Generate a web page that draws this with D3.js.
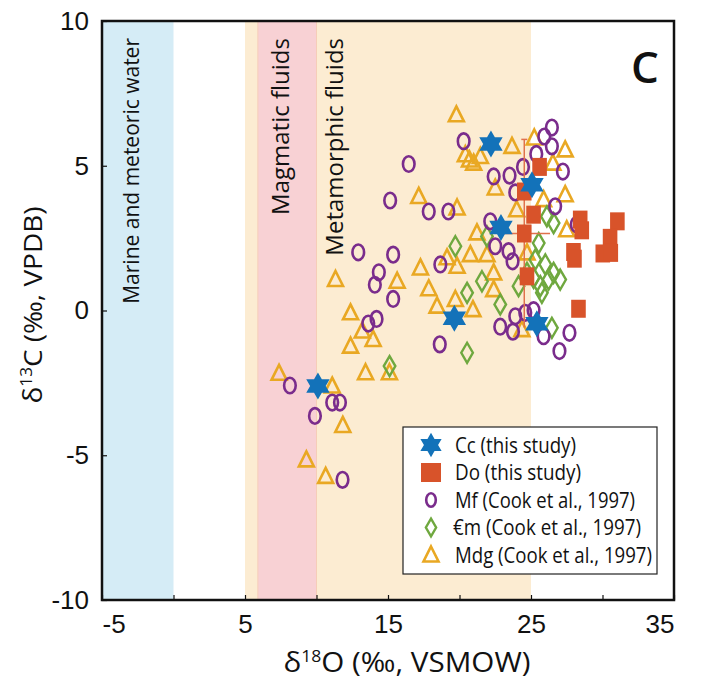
<!DOCTYPE html>
<html><head><meta charset="utf-8">
<script src="https://cdn.jsdelivr.net/npm/d3@7"></script>
<style>
html,body{margin:0;padding:0;background:#fff;}
svg{display:block;font-family:"Open Sans","Noto Sans",sans-serif;}
</style></head>
<body><svg id="c" width="703" height="688"></svg>
<script>
// ---- data ----
const xTicks = [-5,0,5,10,15,20,25,30,35];
const xTickLabels = [-5,5,15,25,35];
const yTicks = [-10,-5,0,5,10];

const regionNames = ["Metamorphic fluids","Magmatic fluids","Marine and meteoric water"];
const regionFrom = [5, 5.9, -5];
const regionTo = [25, 10, 0];

const ccData = [[22.2,5.75],[25.07,4.34],[22.9,2.87],[19.64,-0.27],[25.41,-0.46],[10.1,-2.61]];
const doData = [[25.6,4.96],[24.53,4.11],[25.18,3.31],[24.53,2.66],[28.44,3.14],[28.55,2.77],[31.04,3.08],[30.53,2.51],[30.02,1.97],[30.58,1.99],[27.97,2.02],[28.04,1.79],[24.72,1.18],[28.32,0.06]];
const doErr = {x:24.53, y:2.66, xe:1.8, ye:3.25};
const mfData = [[8.14,-2.59],[9.89,-3.64],[11.1,-3.18],[11.64,-3.18],[11.82,-5.85],
 [12.92,2.01],[15.36,1.93],[14.36,1.32],[14.08,0.89],[15.36,0.40],[14.2,-0.29],[13.62,-0.45],[18.62,-1.17],[18.66,1.59],[17.85,3.42],[19.22,3.42],[15.15,3.8],
 [16.45,5.06],[20.29,5.85],[22.39,4.63],[23.5,4.66],[24.44,4.96],[25.37,5.41],[25.93,6.01],[26.46,6.32],[26.46,5.67],[27.23,4.80],[23.9,4.08],[26.69,3.60],[22.15,3.08],[28.2,2.97],[22.5,2.22],[23.43,2.05],[23.71,1.70],
 [23.9,-0.20],[24.6,-0.08],[25.18,0.01],[22.85,-0.56],[23.74,-0.73],[25.88,-0.89],[27.69,-0.77],[26.99,-1.40]];
const cmData = [[19.71,2.22],[21.92,2.56],[20.53,0.61],[21.57,1.01],[22.85,0.21],[20.53,-1.46],[15.11,-1.92],[25.54,2.33],[26.11,3.25],[26.58,3.02],[25.3,1.76],[26.0,1.59],[26.58,1.30],[27.04,1.07],[26.23,1.07],[25.65,0.84],[25.18,1.13],[24.13,0.84],[24.72,1.30],[25.76,0.61],[26.46,-0.60]];
const mdgData = [[19.78,6.76],[23.67,5.67],[25.23,5.96],[27.39,5.55],[20.41,5.38],[20.99,5.09],[21.46,5.32],[20.7,5.2],[22.5,4.23],[26.53,5.09],[27.39,4.0],[17.15,3.94],[19.83,3.54],[24.0,3.48],[25.88,3.83],[27.5,2.79],[21.22,2.68],[20.76,1.93],[21.92,1.93],[22.39,1.30],[19.83,1.53],[17.27,1.47],[15.64,1.01],[17.85,0.75],[18.43,0.15],[19.71,0.38],[20.94,0.03],[22.39,0.72],[24.36,-0.66],[24.72,1.99],
 [11.33,1.07],[12.38,-0.08],[13.2,-0.71],[13.96,-1.0],[12.38,-1.23],[13.43,-2.15],[15.1,-2.15],[19.13,1.82],
 [7.38,-2.17],[11.1,-2.61],[11.84,-3.97],[9.29,-5.16],[10.64,-5.73]];

const legendLabels = ["Cc (this study)","Do (this study)","Mf (Cook et al., 1997)","€m (Cook et al., 1997)","Mdg (Cook et al., 1997)"];

// ---- styles ----
const C = {cc:"#1372b9", dO:"#d8532a", mf:"#7a2c8c", cm:"#6fa83f", mdg:"#e9a823"};
const regionFill = ["#fcecd2","#f8d1d4","#d5ecf6"];
const legendTextLen = [121,126,180,188,197];

const svg = d3.select("#c");
const x = d3.scaleLinear().domain([-5,35]).range([102,674]);
const y = d3.scaleLinear().domain([-10,10]).range([600,21]);

// regions
svg.append("g").selectAll("rect").data(regionNames).join("rect")
  .attr("x",(d,i)=>x(regionFrom[i])).attr("width",(d,i)=>x(regionTo[i])-x(regionFrom[i]))
  .attr("y",y(10)).attr("height",y(-10)-y(10))
  .attr("fill",(d,i)=>regionFill[i])
  .attr("stroke",(d,i)=>i===1?"#f6cdb8":"none").attr("stroke-width",1);

// region labels (rotated)
const regionLabelX = [343,289,139];
const regionLabelSize = [24,24,21];
svg.append("g").selectAll("text").data(regionNames).join("text")
  .attr("transform",(d,i)=>`translate(${regionLabelX[i]},38) rotate(-90)`)
  .attr("text-anchor","end").attr("font-size",(d,i)=>regionLabelSize[i]).attr("fill","#111")
  .text(d=>d);

// symbol types
const hexStar = {draw(ctx,size){const R=Math.sqrt(size)/2, r=R/Math.sqrt(3);
  for(let k=0;k<12;k++){const a=-Math.PI/2+k*Math.PI/6, rr=k%2?r:R; const px=rr*Math.cos(a), py=rr*Math.sin(a); k?ctx.lineTo(px,py):ctx.moveTo(px,py);} ctx.closePath();}};
const tri = {draw(ctx,size){const s=Math.sqrt(size)/16; ctx.moveTo(0,-8.5*s);ctx.lineTo(7.5*s,6.5*s);ctx.lineTo(-7.5*s,6.5*s);ctx.closePath();}};
const dia = {draw(ctx,size){const s=Math.sqrt(size)/16; ctx.moveTo(0,-10*s);ctx.lineTo(5.8*s,0);ctx.lineTo(0,10*s);ctx.lineTo(-5.8*s,0);ctx.closePath();}};
const rectS = {draw(ctx,size){const s=Math.sqrt(size)/16; ctx.rect(-7.3*s,-9*s,14.6*s,18*s);}};

const plot = svg.append("g");
function drawPath(data,type,size,fill,stroke,sw){
  plot.append("g").selectAll("path").data(data).join("path")
    .attr("transform",d=>`translate(${x(d[0])},${y(d[1])})`)
    .attr("d",d3.symbol().type(type).size(size)())
    .attr("fill",fill).attr("stroke",stroke).attr("stroke-width",sw).attr("stroke-linejoin","miter");
}
drawPath(mdgData,tri,256,"none",C.mdg,2.6);
drawPath(cmData,dia,256,"none",C.cm,2.4);
plot.append("g").selectAll("ellipse").data(mfData).join("ellipse")
  .attr("cx",d=>x(d[0])).attr("cy",d=>y(d[1])).attr("rx",5.8).attr("ry",7.8)
  .attr("fill","none").attr("stroke",C.mf).attr("stroke-width",2.6);
const eb = plot.append("g").attr("stroke","#e0714c").attr("stroke-width",1.5);
eb.append("line").attr("x1",x(doErr.x)).attr("x2",x(doErr.x)).attr("y1",y(doErr.y+doErr.ye)).attr("y2",y(doErr.y-doErr.ye));
eb.append("line").attr("x1",x(doErr.x-doErr.xe)).attr("x2",x(doErr.x+doErr.xe)).attr("y1",y(doErr.y)).attr("y2",y(doErr.y));
eb.append("line").attr("x1",x(doErr.x)-3).attr("x2",x(doErr.x)+3).attr("y1",y(doErr.y+doErr.ye)).attr("y2",y(doErr.y+doErr.ye));
drawPath(doData,rectS,256,C.dO,"none",0);
drawPath(ccData,hexStar,729,C.cc,"none",0);

// axes
const fmt = d => xTickLabels.includes(d) ? String(d) : "";
const xAxis = svg.append("g").attr("transform",`translate(0,${y(-10)})`)
  .call(d3.axisBottom(x).tickValues(xTicks).tickSize(-5).tickPadding(15).tickFormat(fmt));
const yAxis = svg.append("g").attr("transform",`translate(${x(-5)},0)`)
  .call(d3.axisLeft(y).tickValues(yTicks).tickSize(-5).tickPadding(13).tickFormat(d=>String(d)));
[xAxis,yAxis].forEach(a=>{a.select(".domain").remove();
  a.selectAll(".tick line").attr("stroke","#111").attr("stroke-width",1.2);
  a.selectAll(".tick text").attr("font-size",26).attr("fill","#111").attr("font-family","inherit");});
xAxis.selectAll(".tick text").attr("text-anchor",d=>d===-5?"start":d===35?"end":"middle");

// frame
svg.append("rect").attr("x",x(-5)).attr("y",y(10)).attr("width",x(35)-x(-5)).attr("height",y(-10)-y(10))
  .attr("fill","none").attr("stroke","#111").attr("stroke-width",2.5);

// panel letter
svg.append("text").attr("x",645).attr("y",83).attr("text-anchor","middle").attr("font-size",44).attr("font-weight",600).attr("fill","#111").text("C");

// axis titles
const xt = svg.append("text").attr("x",407).attr("y",672).attr("text-anchor","middle").attr("font-size",27).attr("fill","#111")
  .attr("textLength",247).attr("lengthAdjust","spacingAndGlyphs");
xt.append("tspan").text("δ");
xt.append("tspan").attr("font-size",16).attr("dy",-10).text("18");
xt.append("tspan").attr("dy",10).text("O (‰, VSMOW)");
const yt = svg.append("text").attr("transform","translate(42,305) rotate(-90)").attr("text-anchor","middle").attr("font-size",26).attr("fill","#111")
  .attr("textLength",197).attr("lengthAdjust","spacingAndGlyphs");
yt.append("tspan").text("δ");
yt.append("tspan").attr("font-size",16).attr("dy",-10).text("13");
yt.append("tspan").attr("dy",10).text("C (‰, VPDB)");

// legend
const lg = svg.append("g");
lg.append("rect").attr("x",403).attr("y",427).attr("width",254).attr("height",147).attr("fill","#fff").attr("stroke","#222").attr("stroke-width",1.2);
const rowY = d3.scalePoint().domain(legendLabels).range([445,555]);
const legendSym = [
  {t:hexStar,s:600,f:C.cc,st:"none",w:0},
  {t:{draw(ctx){ctx.rect(-10,-9.5,20,19);}},s:1,f:C.dO,st:"none",w:0},
  null,
  {t:dia,s:200,f:"none",st:C.cm,w:2.4},
  {t:tri,s:256,f:"none",st:C.mdg,w:2.6}];
legendLabels.forEach((lab,i)=>{
  const cy = rowY(lab);
  if(i===2){lg.append("ellipse").attr("cx",431).attr("cy",cy).attr("rx",4.8).attr("ry",6.8).attr("fill","none").attr("stroke",C.mf).attr("stroke-width",2.6);}
  else {const s=legendSym[i]; lg.append("path").attr("transform",`translate(431,${cy})`).attr("d",d3.symbol().type(s.t).size(s.s)()).attr("fill",s.f).attr("stroke",s.st).attr("stroke-width",s.w);}
  lg.append("text").attr("x",i===3?453:455).attr("y",cy).attr("dy","0.35em").attr("font-size",22).attr("fill","#111")
    .attr("textLength",legendTextLen[i]).attr("lengthAdjust","spacingAndGlyphs").text(lab);
});
</script></body></html>
